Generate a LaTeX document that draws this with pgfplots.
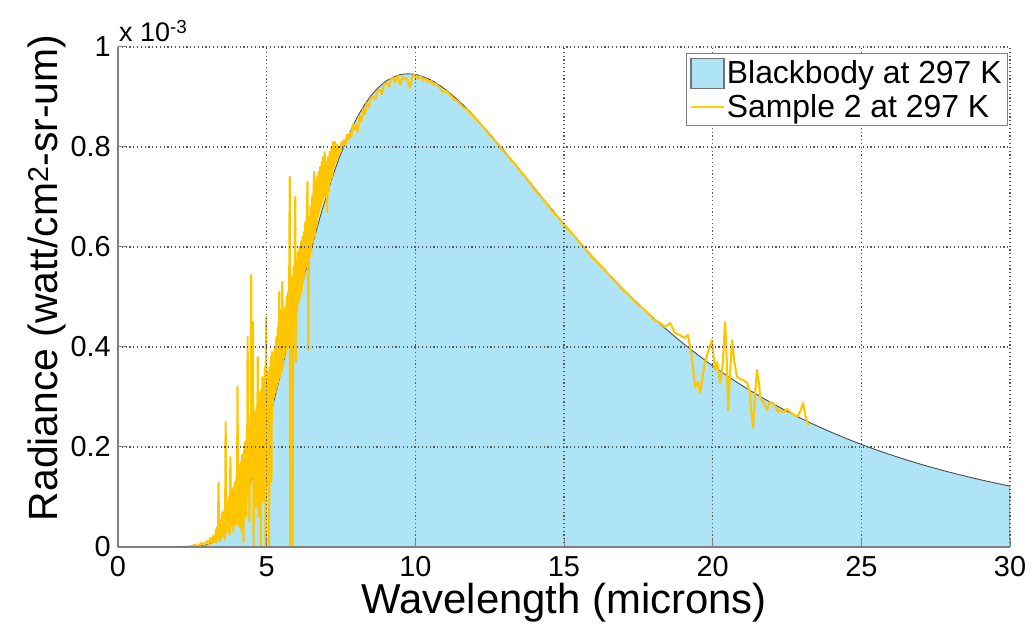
\documentclass[border=0pt]{standalone}
\usepackage{pgfplots}
\pgfplotsset{compat=1.18}
\usepackage{pgfplotstable}
\usepackage{fontspec}
\setmainfont{Liberation Sans}
\definecolor{bbfill}{RGB}{175,228,247}
\definecolor{sampcol}{RGB}{255,198,0}
\definecolor{axgray}{RGB}{128,128,128}

% Blackbody radiance at 297 K, units of 1e-3 watt/cm^2-sr-um
\pgfplotstableread{
x y
1.6 0.0000
2.0 0.0000
2.5 0.0005
2.75 0.0017
3.0 0.0048
3.25 0.0111
3.5 0.0221
3.75 0.0394
4.0 0.0640
4.25 0.0963
4.5 0.1363
4.75 0.1833
5.0 0.2362
5.25 0.2936
5.5 0.3539
5.75 0.4157
6.0 0.4773
6.25 0.5377
6.5 0.5955
6.75 0.6500
7.0 0.7004
7.25 0.7462
7.5 0.7873
8.0 0.8544
8.5 0.9019
9.0 0.9312
9.5 0.9448
10.0 0.9451
10.5 0.9346
11.0 0.9156
11.5 0.8901
12.0 0.8600
13.0 0.7915
14.0 0.7184
15.0 0.6463
16.0 0.5781
17.0 0.5152
18.0 0.4584
19.0 0.4075
20.0 0.3624
21.0 0.3225
22.0 0.2874
23.0 0.2564
24.0 0.2292
25.0 0.2052
26.0 0.1841
27.0 0.1655
28.0 0.1491
29.0 0.1346
30.0 0.1217
}\blackbody

% Sample 2 at 297 K
\pgfplotstableread{
x y
1.6 0
2.0 0.000
2.4 0.001
2.6 0.004
2.7 0.002
2.8 0.008
2.9 0.004
3.0 0.012
3.05 0.005
3.1 0.018
3.15 0.008
3.2 0.022
3.25 0.010
3.30 0.035
3.32 0.010
3.34 0.040
3.36 0.015
3.38 0.128
3.40 0.020
3.42 0.050
3.44 0.012
3.46 0.055
3.48 0.025
3.50 0.070
3.52 0.020
3.54 0.065
3.56 0.030
3.58 0.075
3.60 0.015
3.62 0.250
3.64 0.035
3.66 0.085
3.68 0.030
3.70 0.090
3.72 0.040
3.74 0.100
3.76 0.025
3.78 0.180
3.80 0.045
3.82 0.105
3.84 0.050
3.86 0.115
3.88 0.030
3.90 0.120
3.92 0.060
3.94 0.130
3.96 0.045
3.98 0.140
4.00 0.070
4.02 0.320
4.04 0.060
4.06 0.150
4.08 0.040
4.10 0.165
4.12 0.085
4.14 0.170
4.16 0.030
4.18 0.185
4.20 0.090
4.22 0.010
4.24 0.195
4.26 0.100
4.28 0.210
4.30 0.060
4.32 0.215
4.34 0.110
4.36 0.420
4.38 0.120
4.40 0.230
4.42 0.050
4.44 0.235
4.46 0.130
4.48 0.544
4.50 0.140
4.52 0.250
4.54 0.450
4.56 0.000
4.58 0.255
4.60 0.150
4.62 0.270
4.64 0.080
4.66 0.280
4.68 0.170
4.70 0.380
4.72 0.060
4.74 0.295
4.76 0.180
4.78 0.310
4.80 0.000
4.82 0.315
4.84 0.200
4.86 0.340
4.88 0.090
4.90 0.330
4.92 0.210
4.94 0.360
4.96 0.000
4.98 0.460
5.00 0.230
5.02 0.340
5.04 0.120
5.06 0.350
5.08 0.000
5.10 0.360
5.12 0.260
5.14 0.380
5.16 0.130
5.18 0.390
5.20 0.280
5.225 0.340
5.25 0.300
5.275 0.400
5.30 0.310
5.325 0.420
5.35 0.320
5.375 0.440
5.40 0.330
5.425 0.510
5.45 0.340
5.475 0.450
5.50 0.350
5.525 0.530
5.55 0.360
5.575 0.470
5.60 0.380
5.625 0.480
5.65 0.390
5.675 0.500
5.70 0.400
5.725 0.510
5.75 0.420
5.775 0.740
5.79 0.000
5.81 0.520
5.83 0.430
5.85 0.540
5.87 0.000
5.89 0.450
5.91 0.560
5.93 0.440
5.96 0.700
5.98 0.370
6.00 0.560
6.025 0.470
6.05 0.590
6.075 0.490
6.10 0.600
6.125 0.500
6.15 0.610
6.175 0.510
6.20 0.620
6.225 0.530
6.25 0.630
6.275 0.540
6.30 0.650
6.325 0.560
6.35 0.660
6.375 0.730
6.40 0.394
6.425 0.660
6.45 0.580
6.475 0.680
6.50 0.590
6.525 0.700
6.55 0.610
6.575 0.710
6.60 0.750
6.625 0.620
6.65 0.730
6.675 0.640
6.70 0.740
6.725 0.660
6.75 0.750
6.775 0.670
6.80 0.760
6.825 0.680
6.85 0.770
6.875 0.690
6.90 0.780
6.925 0.700
6.95 0.790
6.975 0.700
7.00 0.770
7.03 0.670
7.06 0.780
7.09 0.710
7.12 0.790
7.15 0.730
7.18 0.800
7.21 0.740
7.24 0.810
7.27 0.760
7.30 0.810
7.33 0.770
7.36 0.805
7.40 0.780
7.44 0.800
7.48 0.790
7.52 0.810
7.56 0.800
7.60 0.815
7.65 0.805
7.70 0.825
7.75 0.815
7.80 0.830
7.85 0.820
7.90 0.846
7.95 0.835
8.00 0.844
8.06 0.830
8.12 0.862
8.18 0.850
8.25 0.876
8.31 0.866
8.37 0.888
8.44 0.880
8.50 0.898
8.58 0.900
8.65 0.895
8.72 0.912
8.81 0.914
8.88 0.906
8.95 0.926
9.05 0.928
9.12 0.920
9.18 0.936
9.25 0.938
9.32 0.930
9.40 0.942
9.49 0.924
9.56 0.940
9.63 0.935
9.72 0.938
9.82 0.918
9.90 0.942
9.99 0.944
10.08 0.936
10.17 0.942
10.26 0.934
10.35 0.936
10.45 0.930
10.53 0.932
10.60 0.924
10.70 0.926
10.80 0.920
10.93 0.910
11.05 0.912
11.17 0.904
11.30 0.896
11.45 0.890
11.60 0.880
11.75 0.874
11.90 0.864
12.05 0.856
12.20 0.845
12.35 0.836
12.50 0.824
12.65 0.814
12.80 0.804
12.95 0.792
13.10 0.784
13.25 0.772
13.40 0.762
13.55 0.750
13.70 0.740
13.85 0.728
14.00 0.716
14.20 0.702
14.40 0.688
14.60 0.672
14.80 0.660
15.00 0.644
15.20 0.632
15.40 0.618
15.60 0.604
15.80 0.590
16.00 0.576
16.20 0.565
16.40 0.552
16.60 0.538
16.80 0.527
17.00 0.513
17.20 0.503
17.40 0.490
17.60 0.480
17.80 0.469
18.00 0.456
18.23 0.448
18.40 0.440
18.57 0.448
18.73 0.428
18.90 0.424
19.05 0.418
19.17 0.424
19.30 0.380
19.41 0.320
19.50 0.330
19.58 0.308
19.66 0.340
19.74 0.368
19.85 0.392
19.92 0.404
19.98 0.414
20.03 0.380
20.08 0.354
20.15 0.370
20.25 0.328
20.33 0.360
20.42 0.450
20.47 0.380
20.52 0.274
20.58 0.340
20.65 0.414
20.73 0.370
20.82 0.340
20.92 0.336
21.03 0.334
21.16 0.328
21.25 0.310
21.30 0.270
21.36 0.238
21.42 0.300
21.49 0.354
21.55 0.330
21.60 0.300
21.66 0.294
21.75 0.285
21.83 0.274
21.92 0.290
22.03 0.288
22.12 0.280
22.20 0.270
22.27 0.274
22.40 0.270
22.50 0.276
22.60 0.270
22.70 0.266
22.84 0.260
22.95 0.272
23.04 0.288
23.12 0.262
23.21 0.244
}\sample

\begin{document}
\begin{tikzpicture}
\begin{axis}[
  scale only axis, width=892bp, height=500bp,
  at={(0,0)}, anchor=south west,
  xmin=0, xmax=30, ymin=0, ymax=1,
  xtick={0,5,10,15,20,25,30},
  ytick={0,0.2,0.4,0.6,0.8,1},
  yticklabels={0,0.2,0.4,0.6,0.8,1},
  axis x line*=bottom, axis y line*=left,
  axis line style={axgray, line width=1.5bp, -},
  axis on top,
  clip mode=individual,
  grid=major,
  grid style={black!65, line width=1.1bp, dash pattern=on 1.2bp off 2.6bp},
  tick style={axgray, line width=1bp},
  tick align=inside, major tick length=8bp,
  /pgf/number format/assume math mode=true,
  ticklabel style={font=\fontsize{29}{32}\selectfont, inner sep=0pt},
  yticklabel style={xshift=-7bp},
  xticklabel style={yshift=-9bp},
  xlabel={Wavelength (microns)},
  ylabel={Radiance (watt/cm\textsuperscript{2}-sr-um)},
  xlabel style={font=\fontsize{42}{46}\selectfont, inner sep=0pt, at={(axis description cs:0.5,0)}, anchor=north, yshift=-36bp},
  ylabel style={font=\fontsize{41}{46}\selectfont, inner sep=0pt, at={(axis description cs:-0.0796,0.538)}, anchor=center},
  legend style={at={(rel axis cs:0.998,0.988)}, anchor=north east,
    draw=axgray, line width=1.2bp, fill=white,
    font=\fontsize{32}{36}\selectfont,
    inner xsep=4bp, inner ysep=4bp, row sep=4bp,
    nodes={inner sep=2bp}},
  legend cell align=left,
]
\addplot[draw=black!70, line width=0.9bp, fill=bbfill, smooth,
  legend image code/.code={\draw[fill=bbfill, draw=black!55, line width=1.2bp] (0bp,-15bp) rectangle (33bp,15bp);}]
  table[x=x, y=y] {\blackbody} \closedcycle;
\addlegendentry{Blackbody at 297 K}
\addplot[draw=sampcol, line width=2.1bp, line join=round,
  legend image code/.code={\draw[draw=sampcol!80!yellow, line width=1.8bp] (0bp,0bp) -- (33bp,0bp);}]
  table[x=x, y=y] {\sample};
\addlegendentry{Sample 2 at 297 K}
\node[anchor=base west, inner sep=0pt, font=\fontsize{27}{30}\selectfont] at (rel axis cs:0,1) [xshift=1bp, yshift=5bp] {x 10\textsuperscript{-3}};
\end{axis}
\pgfresetboundingbox
\path (-118bp,-82bp) rectangle (917bp,547bp);
\end{tikzpicture}
\end{document}
